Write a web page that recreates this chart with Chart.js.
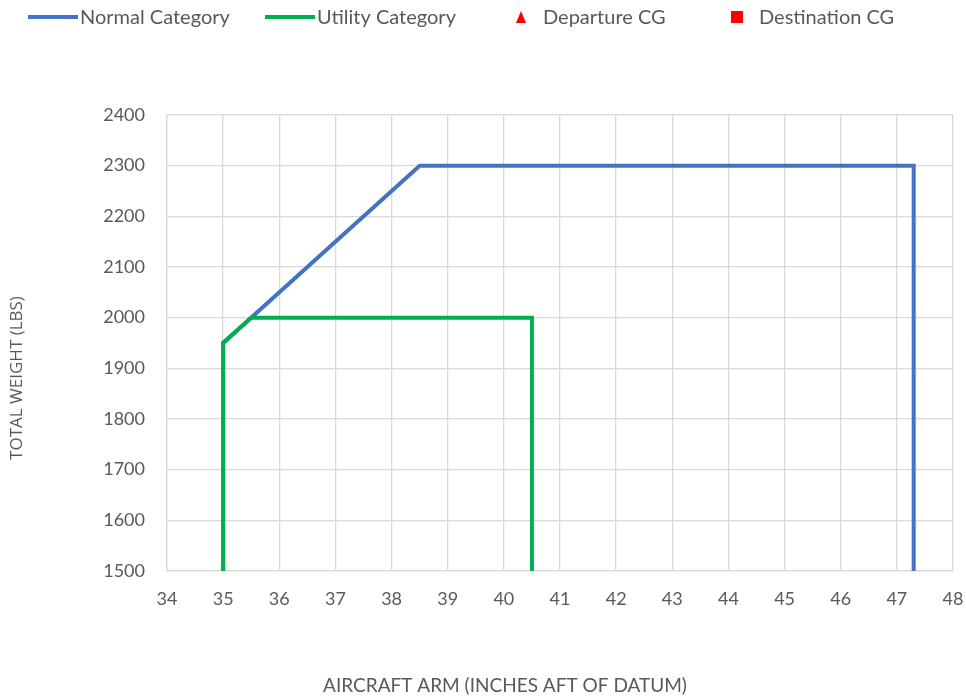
<!DOCTYPE html>
<html>
<head>
<meta charset="utf-8">
<script src="https://cdn.jsdelivr.net/npm/chart.js@4.4.1/dist/chart.umd.min.js"></script>
<style>
  html, body { margin: 0; padding: 0; background: #fff; }
  #wrap { width: 966px; height: 696px; }
</style>
</head>
<body>
<div id="wrap"><canvas id="myChart" width="966" height="696"></canvas></div>
<script>
// envelope data
var normalArm = [35, 35, 38.5, 47.3, 47.3];
var normalWeight = [1500, 1950, 2300, 2300, 1500];
var utilityArm = [35, 35, 35.5, 40.5, 40.5];
var utilityWeight = [1500, 1950, 2000, 2000, 1500];
var departureArm = [];
var departureWeight = [];
var destinationArm = [];
var destinationWeight = [];

var xMin = 34, xMax = 48, xStep = 1;
var yMin = 1500, yMax = 2400, yStep = 100;

var xTitle = 'AIRCRAFT ARM (INCHES AFT OF DATUM)';
var yTitle = 'TOTAL WEIGHT (LBS)';

function toPoints(xs, ys) {
    var pts = [];
    for (var i = 0; i < xs.length; i++) pts.push({ x: xs[i], y: ys[i] });
    return pts;
}

var FONT = "Lato, 'Open Sans', sans-serif";
var TEXT = '#595959';

// excel-like legend along the top, plus the axis titles (excel puts them off-centre)
var decorations = {
    id: 'decorations',
    afterDraw: function (chart) {
        var ctx = chart.ctx;
        var xs = [28, 265, 514, 730];
        var y = 17;
        ctx.save();
        ctx.font = '20px ' + FONT;
        ctx.textBaseline = 'middle';
        chart.data.datasets.forEach(function (ds, i) {
            var x = xs[i];
            var tx;
            if (ds.showLine) {
                ctx.strokeStyle = ds.borderColor;
                ctx.lineWidth = 4;
                ctx.beginPath();
                ctx.moveTo(x, y);
                ctx.lineTo(x + 50, y);
                ctx.stroke();
                tx = x + 52;
            } else {
                ctx.fillStyle = ds.backgroundColor;
                if (ds.pointStyle === 'triangle') {
                    ctx.beginPath();
                    ctx.moveTo(x + 7, y - 6);
                    ctx.lineTo(x + 12, y + 6);
                    ctx.lineTo(x + 2, y + 6);
                    ctx.closePath();
                    ctx.fill();
                } else {
                    ctx.fillRect(x + 1, y - 6, 12, 12);
                }
                tx = x + 29;
            }
            ctx.fillStyle = TEXT;
            ctx.fillText(ds.label, tx, y + 1);
        });

        ctx.fillStyle = TEXT;
        ctx.textAlign = 'center';
        ctx.font = '19px ' + FONT;
        ctx.fillText(xTitle, 505, 686);

        ctx.translate(17, 378);
        ctx.rotate(-Math.PI / 2);
        ctx.font = "17px 'Open Sans', sans-serif";
        ctx.fillText(yTitle, 0, 0);
        ctx.restore();
    }
};

var ctx = document.getElementById('myChart').getContext('2d');
var myChart = new Chart(ctx, {
    type: 'scatter',
    data: {
        datasets: [{
            label: 'Normal Category',
            data: toPoints(normalArm, normalWeight),
            showLine: true,
            borderColor: '#4472C4',
            backgroundColor: '#4472C4',
            borderWidth: 4,
            pointRadius: 0,
            order: 2
        },
        {
            label: 'Utility Category',
            data: toPoints(utilityArm, utilityWeight),
            showLine: true,
            borderColor: '#00B050',
            backgroundColor: '#00B050',
            borderWidth: 4,
            pointRadius: 0,
            order: 1
        },
        {
            label: 'Departure CG',
            data: toPoints(departureArm, departureWeight),
            pointStyle: 'triangle',
            backgroundColor: '#FF0000',
            borderColor: '#FF0000',
            pointRadius: 7
        },
        {
            label: 'Destination CG',
            data: toPoints(destinationArm, destinationWeight),
            pointStyle: 'rect',
            backgroundColor: '#FF0000',
            borderColor: '#FF0000',
            pointRadius: 7
        }]
    },
    options: {
        responsive: false,
        animation: false,
        layout: { padding: { left: 0, top: 115, right: 0, bottom: 0 } },
        plugins: {
            legend: { display: false },
            tooltip: { enabled: false }
        },
        scales: {
            x: {
                type: 'linear',
                min: xMin,
                max: xMax,
                ticks: {
                    stepSize: xStep, color: TEXT, font: { family: FONT, size: 18 }, padding: 17,
                    callback: function (v) { return String(v); }
                },
                grid: { color: '#D9D9D9', lineWidth: 1.3, drawTicks: false },
                border: { color: '#D9D9D9', width: 1.3 },
                afterFit: function (scale) {
                    scale.height = 125;
                    scale.paddingLeft = 0;
                    scale.paddingRight = 13;
                }
            },
            y: {
                type: 'linear',
                min: yMin,
                max: yMax,
                ticks: {
                    stepSize: yStep, color: TEXT, font: { family: FONT, size: 18 }, padding: 22,
                    callback: function (v) { return String(v); }
                },
                grid: { color: '#D9D9D9', lineWidth: 1.3, drawTicks: false },
                border: { color: '#D9D9D9', width: 1.3 },
                afterFit: function (scale) { scale.width = 167; }
            }
        }
    },
    plugins: [decorations]
});
</script>
</body>
</html>
